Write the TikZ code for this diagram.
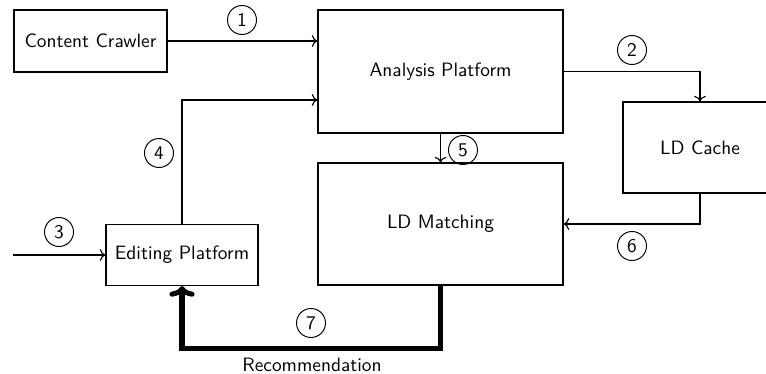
\documentclass[tikz,border=0pt]{standalone}
\usetikzlibrary{arrows.meta}
\begin{document}
\begin{tikzpicture}[x=0.517pt,y=-0.517pt,
  box/.style={draw,line width=0.6pt,rectangle,inner sep=0pt,font=\sffamily},
  num/.style={circle,draw,line width=0.5pt,minimum size=15pt,inner sep=0pt,font=\sffamily},
  flow/.style={->,line width=0.6pt},
  recflow/.style={-{To[length=5.5pt,width=13pt]},line width=2.6pt}]
\useasboundingbox (0,0) rectangle (766,373);

% components
\node[box,minimum width=153*0.517pt,minimum height=62*0.517pt] (crawler) at (90.5,41) {Content Crawler};
\node[box,minimum width=245*0.517pt,minimum height=123*0.517pt] (analysis) at (440.5,71.5) {Analysis Platform};
\node[box,minimum width=154*0.517pt,minimum height=91*0.517pt] (cache) at (700,147.5) {LD Cache};
\node[box,minimum width=245*0.517pt,minimum height=122*0.517pt] (matching) at (440.5,224) {LD Matching};
\node[box,minimum width=152*0.517pt,minimum height=61*0.517pt] (editing) at (182,255) {Editing Platform};

% step numbers
\node[num] (n1) at (242,20) {1};
\node[num] (n2) at (632,50) {2};
\node[num] (n3) at (59,232) {3};
\node[num] (n4) at (159,153) {4};
\node[num] (n5) at (463,150) {5};
\node[num] (n6) at (632,246) {6};
\node[num] (n7) at (311,323) {7};

% data flow
\coordinate (src) at (13,255);
\draw[flow] (crawler.east) -- (crawler.east -| analysis.west);
\draw[flow] (analysis.east) -| (cache.north);
\draw[flow] (src) -- (editing.west);
\draw[flow] (editing.north) |- ([yshift=-14.7pt]analysis.west);
\draw[flow] (analysis.south) -- (matching.north);
\draw[flow] (cache.south) |- (matching.east);
\draw[recflow] (matching.south) -- ++(0,62.5) -| (editing.south);
\node[font=\sffamily] (reclabel) at (312,365) {Recommendation};
\end{tikzpicture}
\end{document}
